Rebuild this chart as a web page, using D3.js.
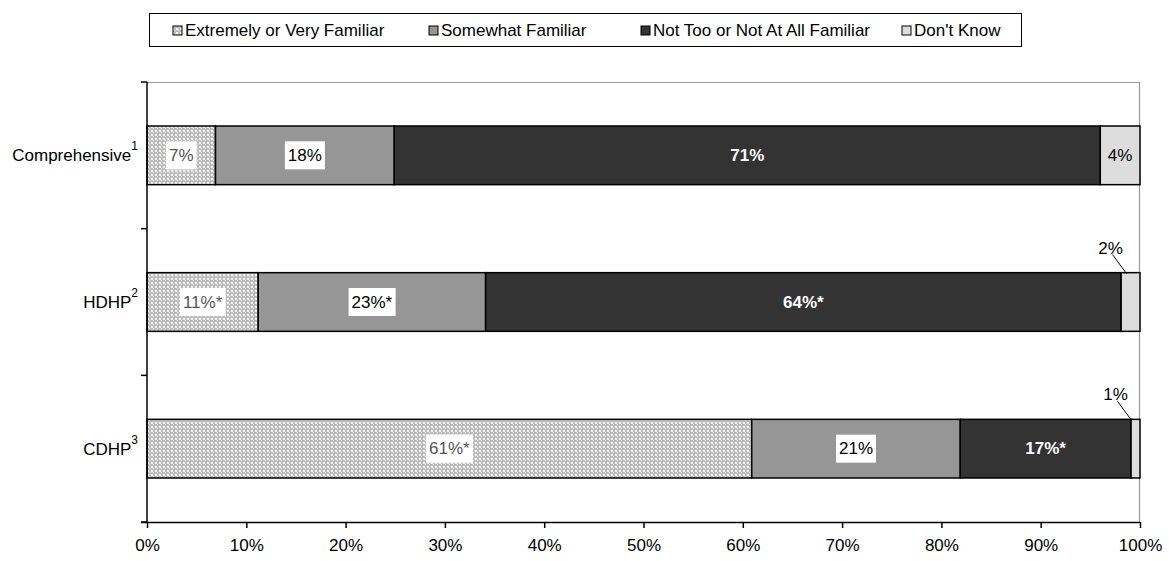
<!DOCTYPE html>
<html>
<head>
<meta charset="utf-8">
<script src="https://cdn.jsdelivr.net/npm/d3@7"></script>
<style>
  body { margin: 0; background: #fff; }
  svg { font-family: "Liberation Sans", Arial, sans-serif; }
</style>
</head>
<body>
<div id="chart"></div>
<script>
// Data
const categories = ['Comprehensive', 'HDHP', 'CDHP'];
const superscripts = ['1', '2', '3'];
const seriesNames = ['Extremely or Very Familiar', 'Somewhat Familiar', 'Not Too or Not At All Familiar', "Don't Know"];
const extremelyVery = [6.9, 11.2, 60.9];
const somewhat = [18.0, 22.9, 21.0];
const notToo = [71.1, 64.0, 17.2];
const dontKnow = [4.0, 1.9, 0.9];
const valueLabels = [
  ['7%', '11%*', '61%*'],
  ['18%', '23%*', '21%'],
  ['71%', '64%*', '17%*'],
  ['4%', '2%', '1%']
];
const xTicks = [0, 10, 20, 30, 40, 50, 60, 70, 80, 90, 100];

const W = 1169, H = 561;
const margin = { top: 82, right: 29, bottom: 39, left: 147 };
const innerW = W - margin.left - margin.right;
const innerH = H - margin.top - margin.bottom;
const FONT = 17;

const svg = d3.select('#chart').append('svg')
  .attr('width', W).attr('height', H);

// Pattern for the dotted series
const defs = svg.append('defs');
const pat = defs.append('pattern')
  .attr('id', 'dots')
  .attr('patternUnits', 'userSpaceOnUse')
  .attr('width', 4).attr('height', 4);
pat.append('rect').attr('width', 4).attr('height', 4).attr('fill', '#bdbdbd');
pat.append('rect').attr('x', 0).attr('y', 0).attr('width', 2).attr('height', 2).attr('fill', '#f4f4f4');
pat.append('rect').attr('x', 2).attr('y', 2).attr('width', 1).attr('height', 1).attr('fill', '#e6e6e6');

const fills = ['url(#dots)', '#969696', '#333333', '#dddddd'];

const rows = categories.map((c, i) => ({
  cat: c,
  s0: extremelyVery[i], s1: somewhat[i], s2: notToo[i], s3: dontKnow[i]
}));
const keys = ['s0', 's1', 's2', 's3'];
const stacked = d3.stack().keys(keys)(rows);

const x = d3.scaleLinear().domain([0, 100]).range([0, innerW]);
const y = d3.scaleBand().domain(categories).range([0, innerH])
  .paddingInner(0.6).paddingOuter(0.3);

const g = svg.append('g').attr('transform', `translate(${margin.left},${margin.top})`);

// frame: top and right grey lines
g.append('line').attr('x1', 0).attr('x2', innerW).attr('y1', 0.5).attr('y2', 0.5)
  .attr('stroke', '#999').attr('stroke-width', 1.2);
g.append('line').attr('x1', innerW - 0.5).attr('x2', innerW - 0.5).attr('y1', 0).attr('y2', innerH)
  .attr('stroke', '#999').attr('stroke-width', 1.2);

// bars
const layers = g.selectAll('.layer').data(stacked).enter().append('g')
  .attr('class', 'layer')
  .attr('fill', (d, i) => fills[i]);

layers.selectAll('rect').data(d => d).enter().append('rect')
  .attr('x', d => x(d[0]))
  .attr('y', d => y(d.data.cat))
  .attr('width', d => x(d[1]) - x(d[0]))
  .attr('height', y.bandwidth())
  .attr('stroke', '#000')
  .attr('stroke-width', 1.5);

// value labels
stacked.forEach((layer, si) => {
  layer.forEach((d, ci) => {
    const txt = valueLabels[si][ci];
    const cx = (x(d[0]) + x(d[1])) / 2;
    const cy = y(d.data.cat) + y.bandwidth() / 2;
    const outside = si === 3 && (d[1] - d[0]) < 3;
    if (outside) {
      const lx = cx - 20, ly = y(d.data.cat) - 19;
      g.append('text').attr('x', lx).attr('y', ly)
        .attr('text-anchor', 'middle').attr('font-size', FONT).attr('fill', '#000')
        .text(txt);
      g.append('line').attr('x1', lx + 2).attr('y1', ly + 1)
        .attr('x2', cx - 4).attr('y2', y(d.data.cat) + 1)
        .attr('stroke', '#000').attr('stroke-width', 1);
      return;
    }
    const t = g.append('text').attr('x', cx).attr('y', cy)
      .attr('text-anchor', 'middle').attr('dominant-baseline', 'central')
      .attr('font-size', FONT)
      .attr('font-weight', si === 2 ? 'bold' : 'normal')
      .attr('fill', si === 0 ? '#555' : si === 2 ? '#fff' : '#000')
      .text(txt);
    if (si < 2) {
      const bb = t.node().getBBox();
      g.insert('rect', () => t.node())
        .attr('x', bb.x - 3).attr('y', cy - 14)
        .attr('width', bb.width + 6).attr('height', 28)
        .attr('fill', '#fff');
    }
  });
});

// x axis
const xAxis = d3.axisBottom(x)
  .tickValues(xTicks)
  .tickSize(6).tickPadding(11)
  .tickFormat(d => d + '%');
const xg = g.append('g').attr('transform', `translate(0,${innerH})`).call(xAxis);
xg.select('.domain').attr('stroke', '#000').attr('stroke-width', 1.5)
  .attr('d', `M-6,0.5H${innerW}`);
xg.selectAll('.tick line').attr('stroke', '#000').attr('stroke-width', 1.5);
xg.selectAll('text').attr('font-size', FONT).attr('fill', '#000')
  .attr('font-family', '"Liberation Sans", Arial, sans-serif');

// y axis line and ticks at band boundaries
g.append('line').attr('x1', 0).attr('x2', 0).attr('y1', 0).attr('y2', innerH)
  .attr('stroke', '#000').attr('stroke-width', 1.5);
const boundaries = [0, ...categories.map(c => y(c) + y.bandwidth() + y.step() * y.paddingInner() / 2).slice(0, -1), innerH];
g.selectAll('.ytick').data(boundaries).enter().append('line')
  .attr('x1', -6).attr('x2', 0)
  .attr('y1', d => d).attr('y2', d => d)
  .attr('stroke', '#000').attr('stroke-width', 1.5);

// category labels with superscripts
categories.forEach((c, i) => {
  const t = g.append('text')
    .attr('x', -9).attr('y', y(c) + y.bandwidth() / 2)
    .attr('text-anchor', 'end').attr('dominant-baseline', 'central')
    .attr('font-size', FONT).attr('fill', '#000');
  t.append('tspan').text(c);
  t.append('tspan').attr('font-size', 12).attr('dy', -9).text(superscripts[i]);
});

// legend
const legend = svg.append('g');
legend.append('rect').attr('x', 149.5).attr('y', 13.5).attr('width', 872).attr('height', 33)
  .attr('fill', '#fff').attr('stroke', '#000').attr('stroke-width', 1);
const legendX = [173, 429, 641, 902];
seriesNames.forEach((name, i) => {
  legend.append('rect').attr('x', legendX[i]).attr('y', 26).attr('width', 9).attr('height', 9)
    .attr('fill', fills[i]).attr('stroke', '#000').attr('stroke-width', 1);
  legend.append('text').attr('x', legendX[i] + 12).attr('y', 30.5)
    .attr('dominant-baseline', 'central').attr('font-size', FONT).attr('fill', '#000')
    .text(name);
});
</script>
</body>
</html>
